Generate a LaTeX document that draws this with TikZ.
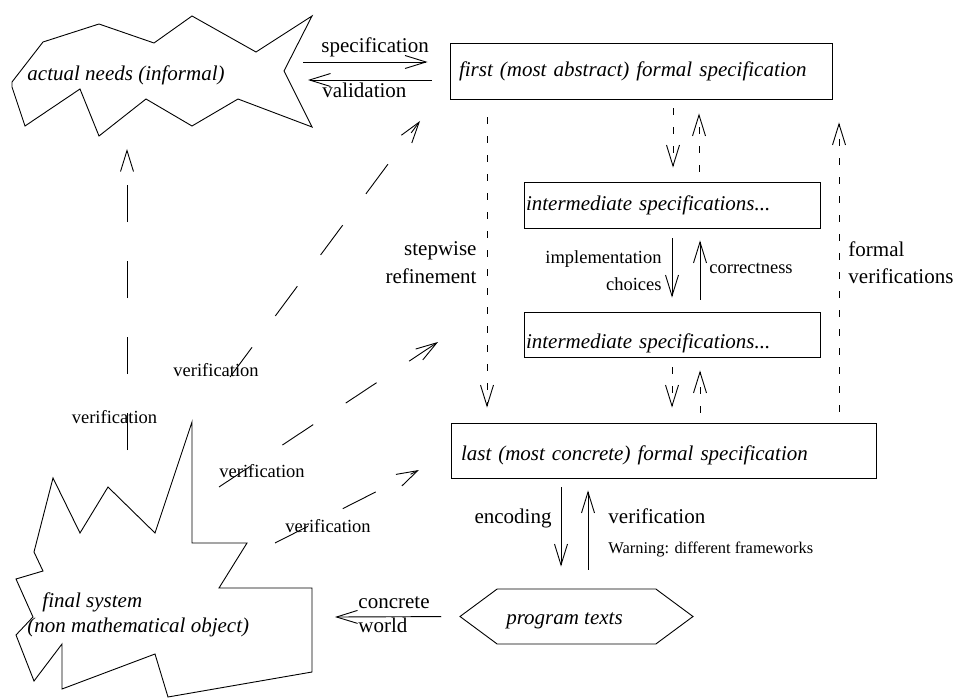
\documentclass[tikz,border=0pt]{standalone}
\usepackage{fontspec}
\setmainfont{Liberation Serif}
\usetikzlibrary{arrows.meta,shapes.symbols}
\begin{document}
\begin{tikzpicture}[x=1pt,y=-1pt,line width=0.9pt,line join=miter,
  big/.style={font=\fontsize{21}{25}\selectfont},
  bigit/.style={font=\fontsize{21}{25}\selectfont\itshape},
  small/.style={font=\fontsize{18.5}{27}\selectfont},
  tiny/.style={font=\fontsize{16.4}{20}\selectfont},
  lbl/.style={inner sep=0pt},
  tip/.style={-{Straight Barb[length=21pt,width=13pt]}},
  longdash/.style={dash pattern=on 37pt off 39pt},
  shortdash/.style={dash pattern=on 7pt off 12pt},
  specbox/.style={draw,rectangle,inner ysep=0pt,align=left,bigit}
]
\useasboundingbox (0,0) rectangle (956,698);

% boxes
\node[specbox,minimum width=382pt,minimum height=56pt,inner xsep=9pt,text width=364pt,text height=17pt,text depth=5pt] (b1) at (641,71) {first (most abstract) formal specification};
\node[specbox,minimum width=296pt,minimum height=46pt,inner xsep=2pt,text width=292pt,text height=16pt,text depth=6pt] (i1) at (672,205) {intermediate specifications...};
\node[specbox,minimum width=296pt,minimum height=45pt,inner xsep=2pt,text width=292pt,text height=29pt,text depth=2pt] (i2) at (672,334.5) {intermediate specifications...};
\node[specbox,minimum width=425pt,minimum height=55pt,inner xsep=10pt,text width=405pt,text height=21pt,text depth=2pt] (b3) at (663.5,450.5) {last (most concrete) formal specification};
\node[draw,signal,signal to=west and east,signal pointer angle=73,minimum width=233pt,minimum height=55pt,inner sep=0pt,bigit,text height=17pt,text depth=2pt] (prog) at (576.5,616.5) {program texts\hspace*{24pt}};

% star shapes
\draw (12,82) -- (43,42) -- (99,24) -- (154,43) -- (192,16) -- (256,52) -- (312,16) -- (284,71) -- (312,127) -- (238,99) -- (192,126) -- (146,99) -- (99,136) -- (80,89) -- (25,126) -- (12,87) -- cycle;
\node[bigit,lbl,anchor=base west] (needs) at (27,81) {actual needs (informal)};

\draw (192,422) -- (192,543) -- (247,543) -- (219,588) -- (312,588) -- (312,672) -- (168,697) -- (155,654) -- (62,689) -- (62,644) -- (34,681) -- (16,635) -- (33,617) -- (16,579) -- (43,571) -- (34,552) -- (53,478) -- (80,533) -- (108,487) -- (155,533) -- cycle;
\node[bigit,lbl,anchor=base west] (final) at (27,607) {\begin{tabular}[t]{@{}l@{}}\hspace*{15pt}final system\\(non mathematical object)\end{tabular}};

% specification / validation
\coordinate (sp0) at (303,62);
\coordinate (va1) at (308,80);
\draw[tip,shorten >=22pt] (sp0) -- ([yshift=9pt]b1.west);
\draw[tip,shorten <=18pt] ([yshift=-9pt]b1.west) -- (va1);
\node[big,lbl,anchor=base west] (lspec) at (321,53) {specification};
\node[big,lbl,anchor=base west] (lval) at (322,98) {validation};

% refinement chain
\draw[tip,shortdash,shorten <=9pt,shorten >=14pt] ([xshift=32pt]b1.south) -- ([xshift=1pt]i1.north);
\draw[tip,shortdash,shorten <=10pt,shorten >=14pt] ([xshift=27pt]i1.north) -- ([xshift=58pt]b1.south);
\draw[tip,shorten <=10pt,shorten >=14pt] (i1.south) -- (i2.north);
\draw[tip,shorten <=12pt,shorten >=12pt] ([xshift=28pt]i2.north) -- ([xshift=28pt]i1.south);
\draw[tip,shortdash,shorten <=10pt,shorten >=15pt] (i2.south) -- ([xshift=8.5pt]b3.north);
\draw[tip,shortdash,shorten <=10pt,shorten >=13pt] ([xshift=36.5pt]b3.north) -- ([xshift=28pt]i2.south);
\node[small,lbl,anchor=base east] (limpl) at (662,263) {\begin{tabular}[t]{@{}r@{}}implementation\\[0.5pt]choices\end{tabular}};
\node[small,lbl,anchor=base west] (lcorr) at (709,273) {correctness};

% stepwise refinement / formal verifications
\draw[tip,shortdash,shorten <=18pt,shorten >=15pt] ([xshift=-154pt]b1.south) -- ([xshift=-176.5pt]b3.north);
\node[big,lbl,anchor=base east] (lstep) at (477,255) {\begin{tabular}[t]{@{}r@{}}stepwise\\[3pt]refinement\end{tabular}};
\draw[tip,shortdash,shorten <=11pt,shorten >=23pt] ([xshift=175.5pt]b3.north) -- ([xshift=198pt]b1.south);
\node[big,lbl,anchor=base west] (lform) at (848,256) {\begin{tabular}[t]{@{}l@{}}formal\\[2pt]verifications\end{tabular}};

% encoding / verification
\draw[tip,shorten <=9pt,shorten >=22pt] ([xshift=-102.5pt]b3.south) -- ([xshift=-15.5pt]prog.north);
\draw[tip,shorten <=19pt,shorten >=12pt] ([xshift=11.5pt]prog.north) -- ([xshift=-75.5pt]b3.south);
\node[big,lbl,anchor=base east] (lenc) at (552,523) {encoding};
\node[big,lbl,anchor=base west] (lver) at (608,523) {verification};
\node[tiny,lbl,anchor=base west] (lwarn) at (608,553) {Warning: different frameworks};

% concrete world
\coordinate (cw) at (335,617);
\draw[tip,shorten <=18pt] (prog.west) -- (cw);
\node[big,lbl,anchor=base west] (lconc) at (358,608) {\begin{tabular}[t]{@{}l@{}}concrete\\[-1pt]world\end{tabular}};

% verification arrows (long dashes)
\coordinate (vA0) at (127,450); \coordinate (vA1) at (127,149);
\coordinate (vB0) at (230,377); \coordinate (vB1) at (420,121);
\coordinate (vC0) at (219,487); \coordinate (vC1) at (438,342);
\coordinate (vD0) at (275,543); \coordinate (vD1) at (419,470);
\draw[tip,longdash] (vA0) -- (vA1);
\draw[tip,longdash] (vB0) -- (vB1);
\draw[tip,longdash] (vC0) -- (vC1);
\draw[tip,longdash] (vD0) -- (vD1);
\node[small,lbl,anchor=base] (lvA) at (114.5,423) {verification};
\node[small,lbl,anchor=base west] (lvB) at (173,376) {verification};
\node[small,lbl,anchor=base west] (lvC) at (219,477) {verification};
\node[small,lbl,anchor=base west] (lvD) at (285,532) {verification};
\end{tikzpicture}
\end{document}
